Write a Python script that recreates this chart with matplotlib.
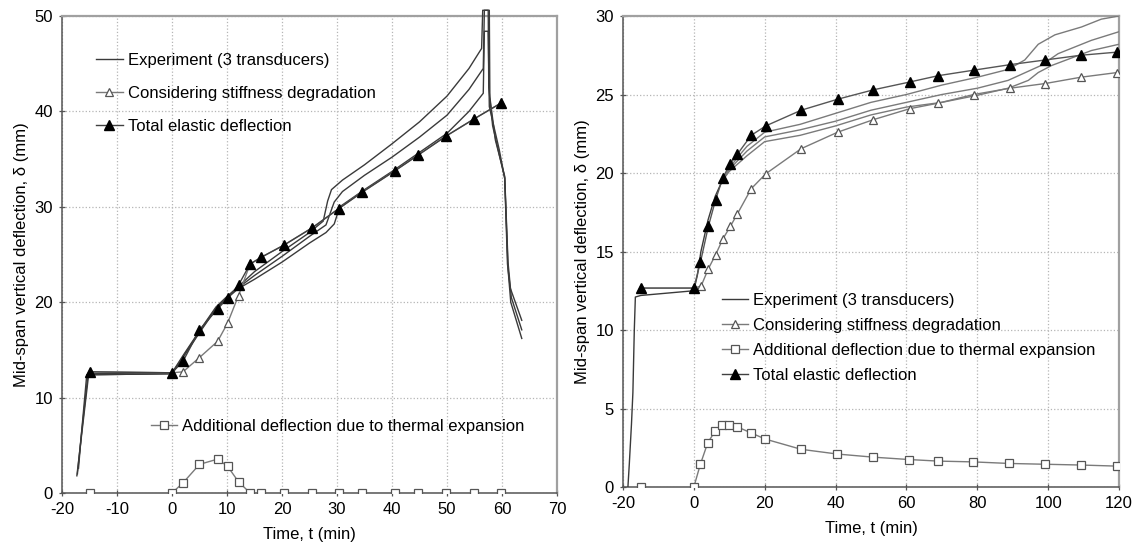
import matplotlib
matplotlib.use('Agg')
import matplotlib.pyplot as plt
from matplotlib.lines import Line2D

plt.rcParams['font.family'] = ['Liberation Sans', 'DejaVu Sans']
plt.rcParams['font.size'] = 12
plt.rcParams['axes.unicode_minus'] = False

# ---- left panel data (time in min, deflection in mm)
l_total_t = [-15, 0, 2, 5, 8.3, 10.1, 12.1, 14.2, 16.2, 20.4, 25.5, 30.3, 34.5, 40.6, 44.7, 49.8, 54.9, 59.9]
l_total_d = [12.7, 12.6, 13.8, 17.1, 19.3, 20.4, 21.8, 24.0, 24.7, 26.0, 27.8, 29.8, 31.5, 33.8, 35.4, 37.4, 39.2, 40.9]

l_stiff_t = [-15, 0, 2, 5, 8.3, 10.1, 12.1, 14.2, 16.2, 20.4, 25.5, 30.3, 34.5, 40.6, 44.7, 49.8, 54.9, 59.9]
l_stiff_d = [12.7, 12.6, 12.7, 14.2, 15.9, 17.8, 20.7, 24.0, 24.7, 26.0, 27.8, 29.8, 31.5, 33.8, 35.4, 37.4, 39.2, 40.9]

l_therm_t = [-15, -8, 0, 2, 5, 8.3, 10.1, 12.1, 14.2, 16.2, 20.4, 25.5, 30.3, 34.5, 40.6, 44.7, 49.8, 54.9, 59.9]
l_therm_d = [0, -0.1, 0, 1.06, 3.0, 3.55, 2.8, 1.17, 0, 0, 0, 0, 0, 0, 0, 0, 0, 0, 0]
l_therm_marks = [0, 2, 3, 4, 5, 6, 7, 8, 9, 10, 11, 12, 13, 14, 15, 16, 17, 18]

l_expA_t = [-17.0, -16.5, -15.5, -14, -5, 0, 2, 5, 8, 10, 12, 15, 20, 25, 27.5, 28.3, 29, 31, 35, 40, 45, 50, 54, 56.3,
            56.5, 57.5, 57.6, 58.3, 59.5, 60.5, 61.0, 61.5, 63.6]
l_expA_d = [2.6, 6.0, 12.4, 12.5, 12.6, 12.6, 14.4, 17.0, 19.5, 20.6, 21.6, 23.2, 25.3, 27.3, 28.5, 30.6, 31.8, 32.8, 34.4,
            36.6, 38.9, 41.6, 44.5, 46.6, 50.6, 50.6, 42.5, 38.5, 35.5, 33.0, 24.0, 21.5, 18.1]
l_expB_t = [-17.2, -16.5, -15.3, -14, 0, 2, 5, 8, 10, 12, 15, 20, 25, 28, 29.5, 31, 35, 40, 45, 50, 54, 56.6,
            56.8, 57.7, 57.8, 58.8, 60.5, 61.1, 61.7, 63.6]
l_expB_d = [2.0, 6.0, 12.3, 12.4, 12.5, 14.3, 16.9, 19.4, 20.5, 21.5, 22.8, 24.8, 26.9, 28.1, 30.5, 31.6, 33.3, 35.2,
            37.3, 39.6, 42.3, 44.5, 50.6, 50.6, 41.5, 37.0, 33.2, 24.2, 20.5, 17.1]
l_expC_t = [-17.3, -15.2, -14, 0, 2, 5, 8, 10, 12, 15, 20, 25, 28, 29.5, 30.5, 35, 40, 45, 50, 54, 56.6,
            56.8, 57.5, 57.7, 59.5, 60.5, 61.1, 61.6, 63.6]
l_expC_d = [1.8, 12.2, 12.4, 12.5, 14.2, 16.8, 19.3, 20.4, 21.4, 22.4, 24.2, 26.2, 27.3, 28.2, 30.0, 31.8, 33.7, 35.7,
            37.7, 40.0, 41.9, 48.4, 48.4, 40.5, 36.0, 33.0, 23.5, 20.0, 16.2]

# ---- right panel data
r_total_t = [-15, 0, 1.85, 4.1, 6.15, 8.2, 10.3, 12.3, 16.2, 20.3, 30.3, 40.6, 50.7, 61.0, 69.0, 79.0, 89.2, 99.2, 109.2, 119.5]
r_total_d = [12.67, 12.67, 14.3, 16.6, 18.3, 19.7, 20.6, 21.2, 22.4, 23.0, 24.0, 24.7, 25.3, 25.8, 26.2, 26.55, 26.9, 27.2, 27.5, 27.7]

r_stiff_t = [-15, 0, 2.05, 4.1, 6.15, 8.2, 10.3, 12.3, 16.2, 20.3, 30.3, 40.6, 50.7, 61.0, 69.0, 79.0, 89.2, 99.2, 109.2, 119.5]
r_stiff_d = [12.67, 12.67, 12.8, 13.9, 14.8, 15.8, 16.6, 17.4, 19.0, 19.95, 21.55, 22.6, 23.4, 24.1, 24.45, 25.0, 25.4, 25.7, 26.1, 26.4]

r_therm_t = [-15, -8, 0, 1.85, 3.9, 5.95, 8.0, 10.05, 12.1, 16.1, 20.2, 30.3, 40.5, 50.7, 60.7, 69.0, 78.8, 89.0, 99.0, 109.2, 119.5]
r_therm_d = [0, -0.1, 0, 1.45, 2.8, 3.55, 3.95, 3.95, 3.85, 3.45, 3.05, 2.4, 2.1, 1.9, 1.75, 1.65, 1.6, 1.5, 1.45, 1.4, 1.33]
r_therm_marks = [0] + list(range(2, 21))

r_exp_start_t = [-18.6, -18.2, -17.6, -17.2, -16.8, -16.5, -15, -10, -5, 0, 1, 2, 4, 6, 8]
r_exp_start_d = [0, 1.5, 4.0, 6.0, 10.0, 12.1, 12.2, 12.3, 12.4, 12.5, 13.5, 15.0, 17.0, 18.5, 19.5]
r_expA_t = [10, 12, 15, 20, 30, 40, 50, 60, 70, 80, 88.7, 93.4, 97.2, 101.9, 109.4, 115, 120]
r_expA_d = [20.3, 20.9, 21.7, 22.6, 23.1, 23.8, 24.5, 25.0, 25.6, 26.1, 26.6, 27.2, 28.2, 28.8, 29.3, 29.8, 30.0]
r_expB_t = [10, 12, 15, 20, 30, 40, 50, 60, 70, 80, 88.7, 98, 102.8, 112.2, 120]
r_expB_d = [20.2, 20.7, 21.4, 22.3, 22.75, 23.3, 24.0, 24.5, 25.0, 25.4, 25.9, 26.85, 27.6, 28.45, 29.0]
r_expC_t = [10, 12, 15, 20, 30, 40, 50, 60, 70, 80, 88.7, 94.4, 97.2, 101, 112.2, 120]
r_expC_d = [20.1, 20.5, 21.1, 22.0, 22.4, 23.0, 23.7, 24.2, 24.5, 24.95, 25.4, 25.9, 26.4, 26.85, 27.8, 28.2]

lbl_exp = 'Experiment (3 transducers)'
lbl_stiff = 'Considering stiffness degradation'
lbl_therm = 'Additional deflection due to thermal expansion'
lbl_total = 'Total elastic deflection'

exp_col = '#3a3a3a'
sim_col = '#7a7a7a'
fs = 12


def style_axes(ax, xlim, xticks, ylim, yticks):
    ax.set_xlim(*xlim)
    ax.set_ylim(*ylim)
    ax.set_xticks(xticks)
    ax.set_yticks(yticks)
    ax.grid(True, linestyle=':', color='#b5b5b5', linewidth=0.9)
    ax.set_axisbelow(True)
    for s in ['left', 'bottom']:
        ax.spines[s].set_color('#555555')
        ax.spines[s].set_linewidth(1.1)
    for s in ['top', 'right']:
        ax.spines[s].set_color('#a0a0a0')
        ax.spines[s].set_linewidth(1.6)
    ax.tick_params(direction='inout', length=5, width=0.9, color='#555555', labelsize=fs, pad=4)
    ax.set_xlabel('Time, t (min)', fontsize=fs, labelpad=7)
    ax.set_ylabel('Mid-span vertical deflection, δ (mm)', fontsize=fs)


fig = plt.figure(figsize=(11.42, 5.48), dpi=100)

# ---------- left
ax1 = fig.add_axes([0.0543, 0.1004, 0.4334, 0.8704])
for t, d in [(l_expA_t, l_expA_d), (l_expB_t, l_expB_d), (l_expC_t, l_expC_d)]:
    ax1.plot(t, d, color=exp_col, lw=1.0, clip_on=False, zorder=3)
ax1.plot(l_therm_t, l_therm_d, color=sim_col, lw=1.0, marker='s', ms=5.5, mfc='white', mec='#555555',
         mew=0.9, markevery=l_therm_marks, zorder=4)
ax1.plot(l_stiff_t, l_stiff_d, color=sim_col, lw=1.0, marker='^', ms=6, mfc='white', mec='#555555',
         mew=0.9, zorder=4)
ax1.plot(l_total_t, l_total_d, color='#404040', lw=1.0, marker='^', ms=6.5, mfc='black', mec='black', zorder=5)
style_axes(ax1, (-20, 70), range(-20, 71, 10), (0, 50), range(0, 51, 10))
ax1.yaxis.set_label_coords(-0.066, 0.5)

h_exp = Line2D([], [], color=exp_col, lw=1.0)
h_stiff = Line2D([], [], color=sim_col, lw=1.0, marker='^', ms=6, mfc='white', mec='#555555', mew=0.9)
h_total = Line2D([], [], color='#404040', lw=1.0, marker='^', ms=6.5, mfc='black', mec='black')
h_therm = Line2D([], [], color=sim_col, lw=1.0, marker='s', ms=5.5, mfc='white', mec='#555555', mew=0.9)

leg1 = ax1.legend([h_exp, h_stiff, h_total], [lbl_exp, lbl_stiff, lbl_total], loc='upper left',
                  bbox_to_anchor=(0.052, 0.94), frameon=False, handlelength=1.6, handletextpad=0.3,
                  labelspacing=1.08, borderpad=0, fontsize=fs)
ax1.add_artist(leg1)
ax1.legend([h_therm], [lbl_therm], loc='upper left', bbox_to_anchor=(0.162, 0.173), frameon=False,
           handlelength=1.6, handletextpad=0.3, borderpad=0, fontsize=fs)

# ---------- right
ax2 = fig.add_axes([0.5455, 0.1113, 0.4344, 0.8595])
ax2.plot(r_exp_start_t, r_exp_start_d, color=exp_col, lw=1.0, zorder=3)
for t, d in [(r_expA_t, r_expA_d), (r_expB_t, r_expB_d), (r_expC_t, r_expC_d)]:
    ax2.plot([r_exp_start_t[-1]] + t, [r_exp_start_d[-1]] + d, color=sim_col, lw=1.0, zorder=3)
ax2.plot(r_therm_t, r_therm_d, color=sim_col, lw=1.0, marker='s', ms=5.5, mfc='white', mec='#555555',
         mew=0.9, markevery=r_therm_marks, zorder=4)
ax2.plot(r_stiff_t, r_stiff_d, color=sim_col, lw=1.0, marker='^', ms=6, mfc='white', mec='#555555',
         mew=0.9, zorder=4)
ax2.plot(r_total_t, r_total_d, color='#555555', lw=1.0, marker='^', ms=6.5, mfc='black', mec='black', zorder=5)
style_axes(ax2, (-20, 120), range(-20, 121, 20), (0, 30), range(0, 31, 5))
ax2.yaxis.set_label_coords(-0.066, 0.5)

ax2.legend([h_exp, h_stiff, h_therm, h_total], [lbl_exp, lbl_stiff, lbl_therm, lbl_total], loc='upper left',
           bbox_to_anchor=(0.182, 0.43), frameon=False, handlelength=1.6, handletextpad=0.3,
           labelspacing=0.6, borderpad=0, fontsize=fs)

fig.savefig('out.png', dpi=100)
